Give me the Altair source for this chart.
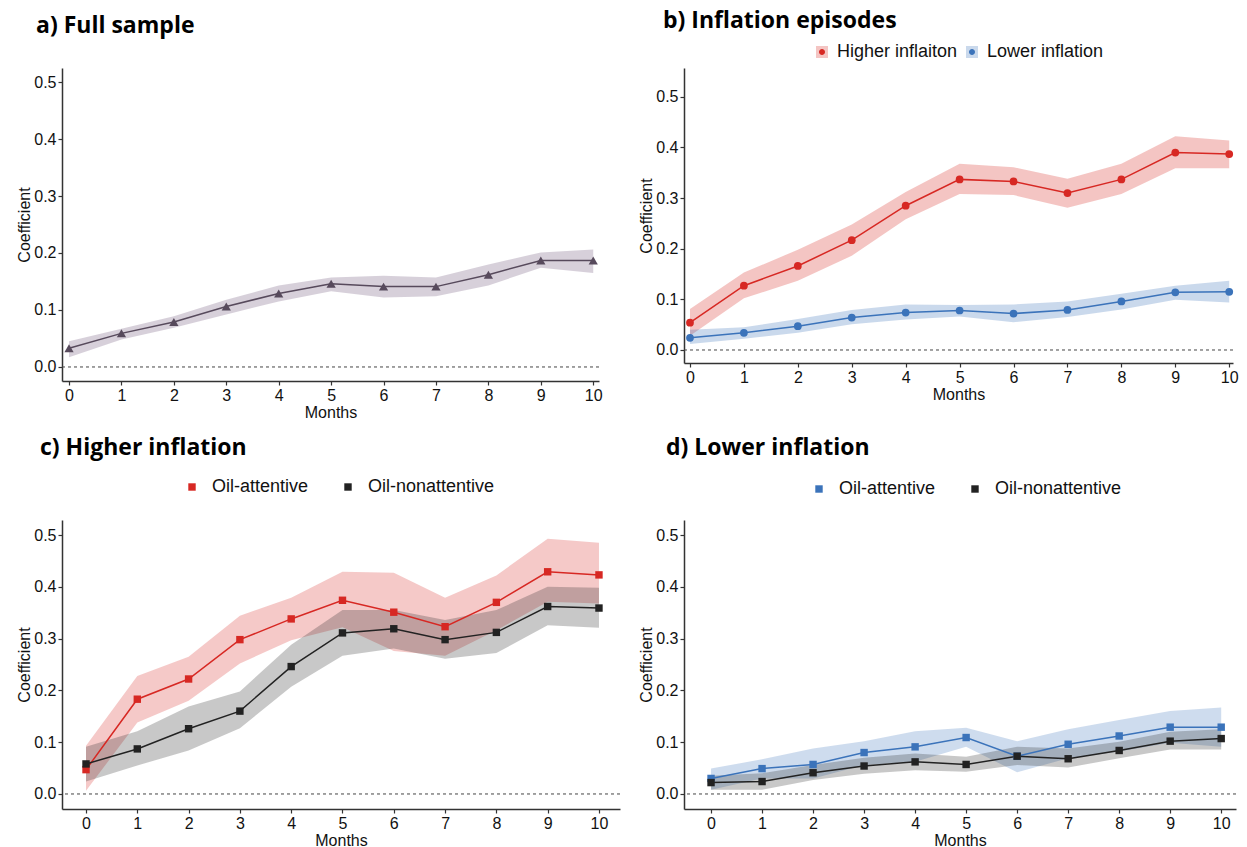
import altair as alt
import pandas as pd

months = list(range(11))

# a) Full sample
full_coef = [0.033, 0.059, 0.079, 0.106, 0.129, 0.146, 0.141, 0.141, 0.162, 0.187, 0.187]
full_lo = [0.017, 0.048, 0.069, 0.092, 0.115, 0.133, 0.122, 0.124, 0.143, 0.174, 0.165]
full_hi = [0.045, 0.067, 0.089, 0.118, 0.143, 0.157, 0.160, 0.157, 0.180, 0.201, 0.206]

# b) Inflation episodes
hi_coef = [0.054, 0.127, 0.166, 0.217, 0.285, 0.337, 0.333, 0.310, 0.337, 0.390, 0.387]
hi_lo = [0.028, 0.102, 0.137, 0.186, 0.258, 0.308, 0.306, 0.281, 0.308, 0.359, 0.359]
hi_hi = [0.081, 0.153, 0.198, 0.248, 0.312, 0.368, 0.361, 0.338, 0.368, 0.422, 0.414]
lo_coef = [0.024, 0.034, 0.047, 0.064, 0.074, 0.078, 0.072, 0.079, 0.096, 0.114, 0.115]
lo_lo = [0.012, 0.022, 0.034, 0.051, 0.060, 0.066, 0.055, 0.065, 0.080, 0.099, 0.094]
lo_hi = [0.040, 0.045, 0.061, 0.079, 0.090, 0.089, 0.090, 0.096, 0.111, 0.127, 0.137]

# c) Higher inflation
c_att_coef = [0.047, 0.183, 0.222, 0.298, 0.338, 0.374, 0.351, 0.323, 0.370, 0.429, 0.423]
c_att_lo = [0.006, 0.138, 0.180, 0.252, 0.297, 0.322, 0.276, 0.267, 0.316, 0.371, 0.368]
c_att_hi = [0.093, 0.228, 0.265, 0.344, 0.379, 0.429, 0.427, 0.379, 0.422, 0.493, 0.485]
c_non_coef = [0.058, 0.087, 0.126, 0.160, 0.246, 0.311, 0.319, 0.298, 0.312, 0.362, 0.359]
c_non_lo = [0.024, 0.055, 0.084, 0.127, 0.207, 0.267, 0.281, 0.261, 0.272, 0.326, 0.321]
c_non_hi = [0.091, 0.121, 0.169, 0.198, 0.288, 0.355, 0.355, 0.336, 0.355, 0.400, 0.398]

# d) Lower inflation
d_att_coef = [0.030, 0.049, 0.057, 0.080, 0.091, 0.109, 0.073, 0.096, 0.112, 0.129, 0.129]
d_att_lo = [0.008, 0.030, 0.030, 0.056, 0.062, 0.091, 0.042, 0.069, 0.082, 0.099, 0.091]
d_att_hi = [0.049, 0.067, 0.088, 0.102, 0.121, 0.128, 0.102, 0.125, 0.143, 0.160, 0.167]
d_non_coef = [0.022, 0.024, 0.041, 0.054, 0.062, 0.057, 0.073, 0.068, 0.084, 0.102, 0.107]
d_non_lo = [0.008, 0.008, 0.027, 0.039, 0.046, 0.043, 0.056, 0.051, 0.069, 0.086, 0.086]
d_non_hi = [0.035, 0.040, 0.056, 0.070, 0.078, 0.072, 0.091, 0.088, 0.101, 0.120, 0.125]

titles = ["a) Full sample", "b) Inflation episodes", "c) Higher inflation", "d) Lower inflation"]
b_groups = ["Higher inflaiton", "Lower inflation"]
cd_groups = ["Oil-attentive", "Oil-nonattentive"]
y_ticks = [0.0, 0.1, 0.2, 0.3, 0.4, 0.5]

RED = "#D72823"
BLUE = "#3B73BA"
BLACK = "#222222"
PURPLE = "#574A5C"
PURPLE_BAND = "#7A6585"

AXIS_FONT = "Liberation Sans"
LEGEND_SIZE = 18
# small dot drawn inside the (larger) legend key box
DOT_PATH = "M0.5,0A0.5,0.5,0,1,1,-0.5,0A0.5,0.5,0,1,1,0.5,0Z"


def frame(groups, series):
    rows = []
    for g, (coef, lo, hi) in zip(groups, series):
        for m, c, l, h in zip(months, coef, lo, hi):
            rows.append({"month": m, "group": g, "band": g, "coef": c, "lo": l, "hi": h})
    return pd.DataFrame(rows)


def panel(df, colors, band_colors, band_opac, shape, size, title, w, h, xdom, ydom,
          legend, fill_legend, title_dx, title_offset):
    xs = alt.Scale(domain=xdom, nice=False, zero=False)
    ys = alt.Scale(domain=ydom, nice=False, zero=False)
    x = alt.X("month:Q", scale=xs, title="Months",
              axis=alt.Axis(values=months, format="d"))
    yax = alt.Axis(values=y_ticks, format=".1f")
    y = alt.Y("coef:Q", scale=ys, title="Coefficient", axis=yax)
    base = alt.Chart(df)
    band = base.mark_area(fillOpacity=band_opac, strokeWidth=0).encode(
        x=x,
        y=alt.Y("lo:Q", scale=ys, title="Coefficient", axis=yax),
        y2="hi:Q",
        fill=alt.Fill("band:N", scale=alt.Scale(range=band_colors), legend=fill_legend),
        detail="band:N",
    )
    zero = alt.Chart(pd.DataFrame({"z": [0.0]})).mark_rule(
        strokeDash=[3, 3], color="#444444", strokeWidth=1
    ).encode(y=alt.Y("z:Q", scale=ys, title="Coefficient", axis=yax))
    color = alt.Color("group:N", scale=alt.Scale(range=colors), legend=legend)
    line = base.mark_line(strokeWidth=1.5).encode(x=x, y=y, color=color)
    pts = base.mark_point(filled=True, shape=shape, size=size, opacity=1).encode(
        x=x, y=y, color=color)
    return alt.layer(band, zero, line, pts).properties(
        width=w, height=h,
        title=alt.TitleParams(title, anchor="start", frame="group", dx=title_dx,
                              offset=title_offset),
    )


df_a = frame(["Full sample"], [(full_coef, full_lo, full_hi)])
df_b = frame(b_groups, [(hi_coef, hi_lo, hi_hi), (lo_coef, lo_lo, lo_hi)])
df_c = frame(cd_groups, [(c_att_coef, c_att_lo, c_att_hi), (c_non_coef, c_non_lo, c_non_hi)])
df_d = frame(cd_groups, [(d_att_coef, d_att_lo, d_att_hi), (d_non_coef, d_non_lo, d_non_hi)])


def leg_b(symbol, opacity, label_opacity):
    # two identical legend layouts: translucent key box + dot on top of it
    return alt.Legend(
        title=None, orient="none", legendX=129, legendY=-25, direction="horizontal",
        labelFontSize=LEGEND_SIZE, labelFont=AXIS_FONT, labelColor="#111111",
        labelOpacity=label_opacity,
        symbolType=symbol, symbolSize=144, symbolOpacity=opacity, symbolStrokeWidth=0,
        columnPadding=5, labelOffset=6,
    )


def leg_cd(lx, ly):
    return alt.Legend(
        title=None, orient="none", legendX=lx, legendY=ly, direction="horizontal",
        labelFontSize=LEGEND_SIZE, labelFont=AXIS_FONT, labelColor="#111111",
        symbolType="square", symbolSize=55, columnPadding=30, labelOffset=11,
        symbolStrokeWidth=0,
    )


pa = panel(df_a, [PURPLE], [PURPLE_BAND], 0.3, "triangle-up", 85, titles[0],
           537, 313, [-0.134, 10.11], [-0.0246, 0.5246], None, None, -26, 30)
pb = panel(df_b, [RED, BLUE], [RED, BLUE], 0.27, "circle", 60, titles[1],
           549, 295, [-0.111, 10.07], [-0.0257, 0.557],
           leg_b(DOT_PATH, 1, 0), leg_b("square", 0.27, 1), -21, 10)
pc = panel(df_c, [RED, BLACK], [RED, BLACK], 0.25, "square", 55, titles[2],
           558, 289, [-0.468, 10.41], [-0.029, 0.529], leg_cd(121, -42), None, -22, 18)
pd_ = panel(df_d, [BLUE, BLACK], [BLUE, BLACK], 0.25, "square", 55, titles[3],
            552, 289, [-0.53, 10.29], [-0.029, 0.529], leg_cd(126, -40), None, -18, 20)

chart = alt.concat(pa, pb, pc, pd_, columns=2, bounds="flush",
                   spacing={"row": 139, "column": 64}).properties(
    padding={"left": 8, "top": 2, "right": 0, "bottom": 0}
).resolve_scale(x="independent", y="independent", color="independent", fill="independent"
).configure_view(stroke=None).configure_axis(
    grid=False,
    domainColor="#333333", domainWidth=1.5,
    tickColor="#333333", tickWidth=1.2, tickSize=4,
    labelFont=AXIS_FONT, labelFontSize=16, labelColor="#111111", labelPadding=2,
    titleFont=AXIS_FONT, titleFontSize=16, titleFontWeight="normal", titleColor="#111111",
    titlePadding=1,
).configure_title(
    font="Open Sans", fontSize=23, fontWeight="bold", color="#000000", anchor="start",
).configure_legend(
    padding=0,
)

chart.save("out.html", embed_options={"renderer": "svg", "actions": False})
